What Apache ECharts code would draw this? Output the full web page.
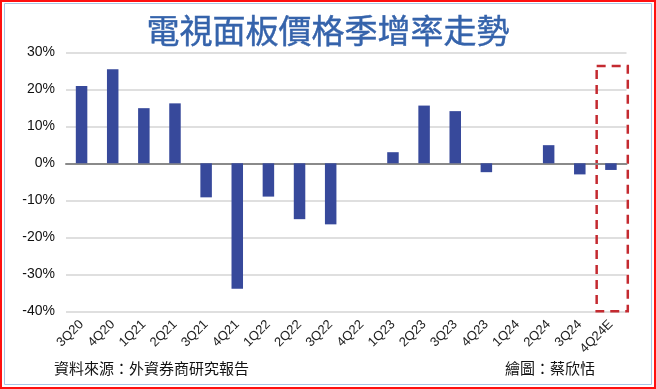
<!DOCTYPE html>
<html>
<head>
<meta charset="utf-8">
<script src="https://cdn.jsdelivr.net/npm/echarts@6/dist/echarts.min.js"></script>
<style>
html,body{margin:0;padding:0;background:#fff;}
#c{width:656px;height:389px;}
</style>
</head>
<body>
<div id="c"></div>
<script>
var categories = ['3Q20','4Q20','1Q21','2Q21','3Q21','4Q21','1Q22','2Q22','3Q22','4Q22','1Q23','2Q23','3Q23','4Q23','1Q24','2Q24','3Q24','4Q24E'];
var growth = [20.9, 25.4, 14.9, 16.2, -9.2, -33.9, -9.0, -15.1, -16.5, 0, 3.0, 15.6, 14.1, -2.4, 0, 4.9, -3.0, -1.8];
var yTicks = [-40, -30, -20, -10, 0, 10, 20, 30];
var titleText = '電視面板價格季增率走勢';
var sourceText = '資料來源：外資券商研究報告';
var creditText = '繪圖：蔡欣恬';
var forecastCategory = '4Q24E';
var forecastRange = [26.3, -40];

var chart = echarts.init(document.getElementById('c'), null, {renderer:'canvas'});
var option = {
  animation: false,
  backgroundColor: '#fff',
  title: {
    text: titleText,
    left: 'center',
    top: 9,
    textStyle: {fontFamily: '"Noto Sans CJK TC", sans-serif', fontSize: 33, fontWeight: 'normal', color: '#3563ab',
                textBorderColor: '#3563ab', textBorderWidth: 0.45}
  },
  grid: {left: 66, right: 29.5, top: 52.3, bottom: 77.7, containLabel: false},
  xAxis: {
    type: 'category',
    data: categories,
    axisLine: {onZero: true, lineStyle: {color: '#8a8a8a', width: 2}},
    axisTick: {show: false},
    axisLabel: {
      interval: 0, rotate: 45, margin: 11, color: '#222',
      fontFamily: 'Arial, "Liberation Sans", sans-serif', fontSize: 13
    }
  },
  yAxis: {
    type: 'value',
    min: yTicks[0], max: yTicks[yTicks.length - 1], interval: 10,
    axisLine: {show: false},
    axisTick: {show: false},
    axisLabel: {
      margin: 11, color: '#111', fontSize: 14,
      fontFamily: 'Arial, "Liberation Sans", sans-serif',
      formatter: function (v) { return v + '%'; }
    },
    splitLine: {lineStyle: {color: '#d4d4d4', width: 1.5}}
  },
  series: [{
    type: 'bar',
    data: growth,
    barWidth: 11.5,
    itemStyle: {color: '#37499b'}
  }]
};
chart.setOption(option);

function drawExtras() {
  var idx = categories.indexOf(forecastCategory);
  var p1 = chart.convertToPixel({gridIndex: 0}, [idx, forecastRange[0]]);
  var p2 = chart.convertToPixel({gridIndex: 0}, [idx, forecastRange[1]]);
  var band = (656 - 66 - 29.5) / categories.length;
  var x0 = p1[0] - band / 2 + 1.3;
  chart.setOption({
    graphic: [
      {type: 'rect', silent: true, shape: {x: x0, y: p1[1], width: band, height: p2[1] - p1[1]},
       style: {fill: 'none', stroke: '#c42a30', lineWidth: 2.5, lineDash: [9, 6]}},
      {type: 'rect', silent: true, shape: {x: 1, y: 1, width: 654, height: 387},
       style: {fill: 'none', stroke: '#ff1010', lineWidth: 2}},
      {type: 'rect', silent: true, shape: {x: 4.5, y: 3.5, width: 647, height: 381},
       style: {fill: 'none', stroke: '#a8c6e6', lineWidth: 1}},
      {type: 'text', silent: true, left: 54, top: 361,
       style: {text: sourceText, fill: '#111', fontSize: 15, fontFamily: '"Noto Sans CJK TC", sans-serif'}},
      {type: 'text', silent: true, left: 505, top: 361,
       style: {text: creditText, fill: '#111', fontSize: 15, fontFamily: '"Noto Sans CJK TC", sans-serif'}}
    ]
  });
}
drawExtras();
</script>
</body>
</html>
